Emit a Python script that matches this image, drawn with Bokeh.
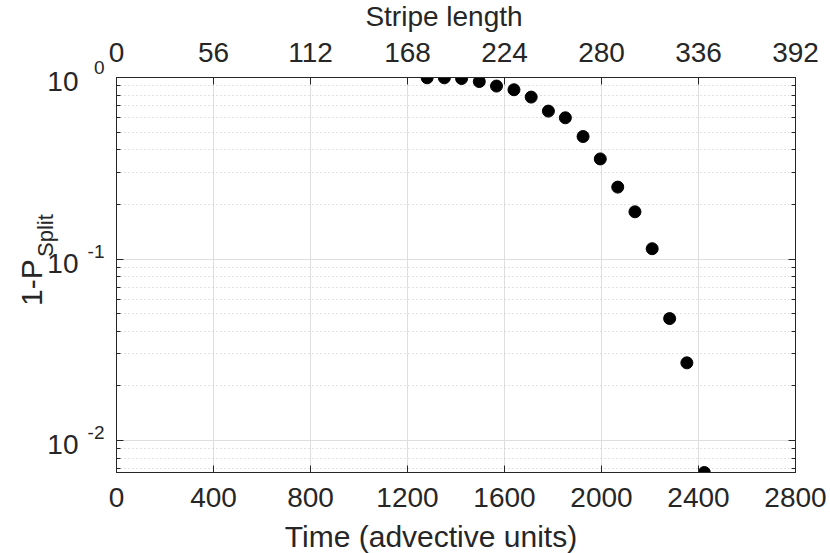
import math
from bokeh.plotting import figure
from bokeh.models import (Range1d, LinearAxis, LogAxis, FixedTicker, Label,
                          CustomJSTickFormatter)
from bokeh.embed import file_html
from bokeh.resources import INLINE

# ---- data ----
time_units = [1281, 1352, 1423, 1496, 1567, 1639, 1710, 1781, 1851, 1924,
              1995, 2067, 2138, 2209, 2281, 2352, 2424]
one_minus_psplit = [0.996, 0.996, 0.987, 0.950, 0.897, 0.856, 0.780, 0.653,
                    0.600, 0.473, 0.356, 0.249, 0.182, 0.114, 0.0470, 0.0268,
                    0.00667]
x_ticks = [0, 400, 800, 1200, 1600, 2000, 2400, 2800]
top_ticks = [0, 56, 112, 168, 224, 280, 336, 392]
y_major = [1.0, 0.1, 0.01]
y_exponents = ["0", "-1", "-2"]
y_minor = [0.007, 0.008, 0.009,
           0.02, 0.03, 0.04, 0.05, 0.06, 0.07, 0.08, 0.09,
           0.2, 0.3, 0.4, 0.5, 0.6, 0.7, 0.8, 0.9]
x_label = "Time (advective units)"
top_label = "Stripe length"
y_label_main = "1-P"
y_label_sub = "Split"

FONT = "Liberation Sans"
TXT = "#262626"
TICK_FS = 28
SUP_FS = 19
LABEL_FS = 30
SUB_FS = 22

W, H = 830, 553
BL, BR, BT, BB = 115, 35, 77, 81
FW, FH = W - BL - BR, H - BT - BB

ymin = min(one_minus_psplit)
ymax = 1.0
p = figure(width=W, height=H,
           x_range=Range1d(x_ticks[0], x_ticks[-1]),
           y_range=Range1d(ymin, ymax),
           y_axis_type="log",
           output_backend="svg", toolbar_location=None,
           min_border_left=BL, min_border_right=BR,
           min_border_top=BT, min_border_bottom=BB)
p.background_fill_color = "white"
p.border_fill_color = "white"
p.outline_line_color = TXT
p.outline_line_width = 1

# shifted copies of the y range, used only to place the "10" and exponent texts
span = math.log10(ymax) - math.log10(ymin)
def shifted(px_up):
    f = 10 ** (-px_up * span / FH)
    return Range1d(ymin * f, ymax * f)
p.extra_y_ranges = {"sup": shifted(8), "base": shifted(-4)}
p.extra_x_ranges = {"top": Range1d(top_ticks[0], top_ticks[-1])}

yticker = FixedTicker(ticks=y_major, minor_ticks=y_minor)
xticker = FixedTicker(ticks=x_ticks)
blank = CustomJSTickFormatter(code="return ''")

def style_ticks(ax, major_in=7, minor_in=0):
    ax.major_tick_in = major_in
    ax.major_tick_out = 0
    ax.minor_tick_in = minor_in
    ax.minor_tick_out = 0
    ax.axis_line_color = TXT
    ax.major_tick_line_color = TXT
    ax.minor_tick_line_color = TXT
    ax.major_label_text_font = FONT
    ax.major_label_text_color = TXT

def text_only(ax, fs, standoff):
    ax.axis_line_color = None
    ax.major_tick_line_color = None
    ax.minor_tick_line_color = None
    ax.major_tick_in = 0
    ax.major_tick_out = 0
    ax.minor_tick_in = 0
    ax.minor_tick_out = 0
    ax.major_label_standoff = standoff
    ax.major_label_text_font = FONT
    ax.major_label_text_font_size = f"{fs}px"
    ax.major_label_text_color = TXT

# bottom axis
xa = p.xaxis[0]
xa.ticker = xticker
style_ticks(xa)
xa.major_label_text_font_size = f"{TICK_FS}px"
xa.major_label_standoff = 15

# top axis
ta = LinearAxis(x_range_name="top", ticker=FixedTicker(ticks=top_ticks))
style_ticks(ta)
ta.major_label_text_font_size = f"{TICK_FS}px"
ta.major_label_standoff = 16
p.add_layout(ta, "above")

# left axis: ticks only
ya = p.yaxis[0]
ya.ticker = yticker
ya.formatter = blank
style_ticks(ya, 7, 4)
ya.major_label_standoff = 0

# exponent texts next to the frame (decades inside the shifted range)
exp_fmt = CustomJSTickFormatter(
    args=dict(tv=y_major, lab=y_exponents),
    code="""
for (let i = 0; i < tv.length; i++) {
  if (Math.abs(Math.log10(tick / tv[i])) < 1e-6) return lab[i];
}
return '';
""")
ea = LogAxis(y_range_name="sup", ticker=FixedTicker(ticks=y_major), formatter=exp_fmt)
text_only(ea, SUP_FS, 12)
p.add_layout(ea, "left")

# base "10" texts
ba = LogAxis(y_range_name="base", ticker=FixedTicker(ticks=y_major),
             formatter=CustomJSTickFormatter(code="return '10';"))
text_only(ba, TICK_FS, 6)
p.add_layout(ba, "left")

# right axis: ticks only
ra = LogAxis(ticker=yticker, formatter=blank)
style_ticks(ra, 7, 4)
ra.major_label_standoff = 0
p.add_layout(ra, "right")

# grids
p.xgrid.ticker = xticker
p.xgrid.grid_line_color = "#dedede"
p.xgrid.grid_line_width = 1
p.ygrid.ticker = yticker
p.ygrid.grid_line_color = "#dedede"
p.ygrid.grid_line_width = 1
p.ygrid.minor_grid_line_color = "#c4c4c4"
p.ygrid.minor_grid_line_dash = "1 3"
p.ygrid.minor_grid_line_width = 1

# data
p.scatter(time_units, one_minus_psplit, size=12, color="black", line_color="black")

def text_label(text, x, y, fs, xo, yo, align="left", angle=0.0):
    return Label(x=x, y=y, x_offset=xo, y_offset=yo, text=text,
                 text_align=align, text_baseline="alphabetic", angle=angle,
                 text_font=FONT, text_font_size=f"{fs}px", text_color=TXT)

x0 = x_ticks[0]
xmid = (x_ticks[0] + x_ticks[-1]) / 2
ymid = math.sqrt(ymin * ymax)

# exponent of the top decade (outside the shifted range, so as a label)
p.add_layout(text_label(y_exponents[0], x0, y_major[0], SUP_FS, -12, 10,
                        align="right"), "left")

# y axis title 1-P with subscript Split (rotated)
p.add_layout(text_label(y_label_main, x0, ymid, LABEL_FS, -85, -31,
                        angle=math.pi / 2), "left")
p.add_layout(text_label(y_label_sub, x0, ymid, SUB_FS, -71, 18,
                        angle=math.pi / 2), "right")

# x axis titles
p.add_layout(text_label(x_label, xmid, ymin, LABEL_FS, -25, -64, align="center"),
             "below")
p.add_layout(text_label(top_label, xmid, ymax, TICK_FS, -12, 61, align="center"),
             "above")

open("out.html", "w").write(file_html(p, INLINE))
